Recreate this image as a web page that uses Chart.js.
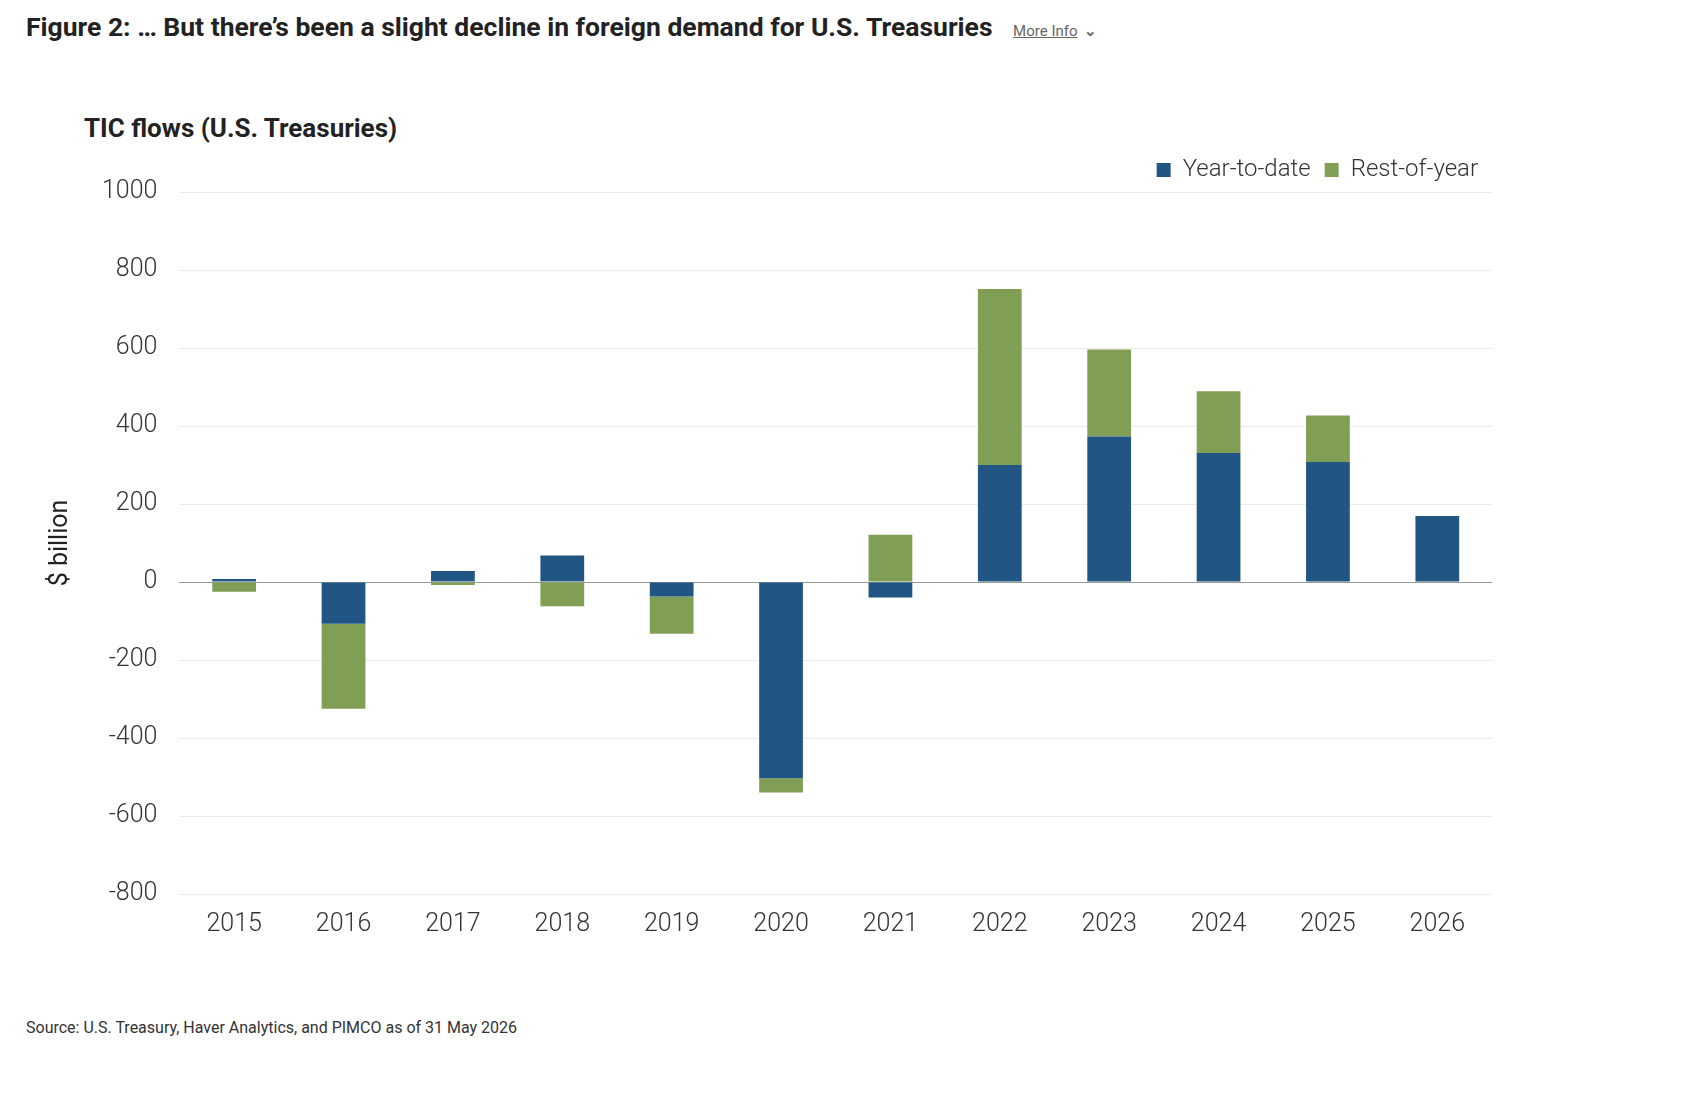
<!DOCTYPE html>
<html>
<head>
<meta charset="utf-8">
<script src="https://cdn.jsdelivr.net/npm/chart.js@4"></script>
<style>
  body { margin: 0; background: #fff; font-family: Roboto, sans-serif; color: #222; }
  .head { position: absolute; left: 26px; top: 11px; font-size: 26.5px; font-weight: 700; }
  .head a { font-size: 15px; font-weight: 400; color: #666; text-decoration: underline; margin-left: 14px; }
  .sub { position: absolute; left: 84px; top: 113px; font-size: 26px; font-weight: 700; }
  .chart-container { position: absolute; left: 42px; top: 144px; width: 1570px; height: 804px; }
  .source { position: absolute; left: 26px; top: 1018px; font-size: 16px; color: #333; }
</style>
</head>
<body>
<div class="head">Figure 2: … But there’s been a slight decline in foreign demand for U.S. Treasuries <a>More Info</a> <span style="font-size:15px;color:#666">&#8964;</span></div>
<div class="sub">TIC flows (U.S. Treasuries)</div>
<div class="chart-container"><canvas id="ticChart"></canvas></div>
<div class="source">Source: U.S. Treasury, Haver Analytics, and PIMCO as of 31 May 2026</div>
<script>
// Valeurs ($ milliards)
const years = ["2015","2016","2017","2018","2019","2020","2021","2022","2023","2024","2025","2026"];
const yearToDate = [8, -107, 28, 68, -37, -503, -40, 300, 373, 331, 308, 169];
const restOfYear = [-25, -218, -8, -62, -96, -37, 121, 451, 223, 158, 119, 0];

const tickFont = { family: "Roboto", size: 25, weight: "300" };

new Chart(document.getElementById("ticChart").getContext("2d"), {
  type: "bar",
  data: {
    labels: years,
    datasets: [
      { label: "Year-to-date", data: yearToDate, backgroundColor: "#215584", barPercentage: 0.4, categoryPercentage: 1 },
      { label: "Rest-of-year", data: restOfYear, backgroundColor: "#819e55", barPercentage: 0.4, categoryPercentage: 1 },
    ],
  },
  options: {
    responsive: true,
    maintainAspectRatio: false,
    animation: false,
    layout: { padding: { right: 120 } },
    plugins: {
      legend: {
        align: "end",
        labels: { boxWidth: 14, boxHeight: 14, font: { family: "Roboto", size: 24, weight: "300" }, color: "#333", padding: 14 },
      },
      tooltip: { enabled: false },
    },
    scales: {
      x: {
        stacked: true,
        grid: { display: false },
        border: { display: false },
        ticks: { font: tickFont, color: "#333", padding: 8 },
      },
      y: {
        stacked: true,
        min: -800,
        max: 1000,
        ticks: { stepSize: 200, font: tickFont, color: "#333", padding: 22, callback: (v) => String(v) },
        grid: {
          color: (ctx) => (ctx.tick && ctx.tick.value === 0 ? "#999" : "#ececec"),
          drawTicks: false,
        },
        border: { display: false },
        title: { display: true, text: "$ billion", font: { family: "Roboto", size: 25 }, color: "#222" },
      },
    },
  },
});
</script>
</body>
</html>
